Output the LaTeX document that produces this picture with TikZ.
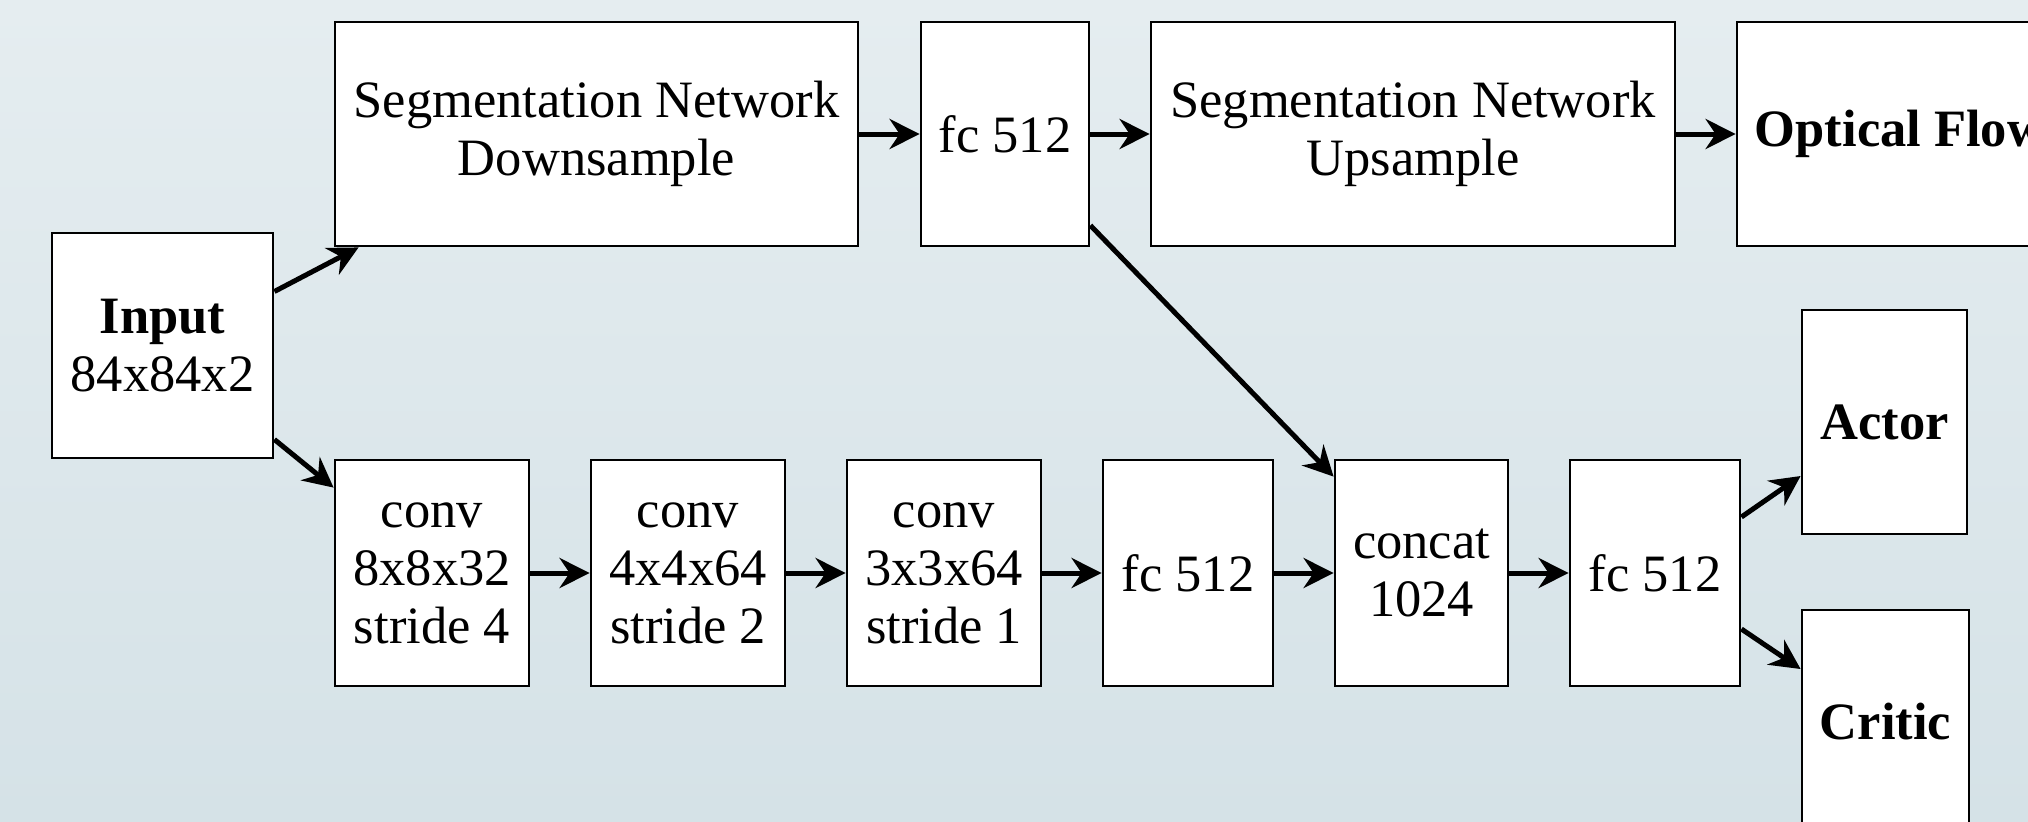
\documentclass[tikz,border=0pt]{standalone}
\usepackage{fontspec}
\setmainfont{Liberation Serif}
\usetikzlibrary{arrows.meta}
\definecolor{bgtop}{HTML}{E5EDF0}
\definecolor{bgbot}{HTML}{D5E2E7}
\begin{document}
\begin{tikzpicture}[x=0.5pt,y=-0.5pt,
  box/.style={draw=black, fill=white, line width=1.4pt, rectangle, inner sep=0pt,
    align=center, font=\fontsize{26.25pt}{29pt}\selectfont},
  sz/.style 2 args={minimum width=#1pt, minimum height=#2pt},
  flow/.style={-{Stealth[length=15pt,width=15pt,inset=5pt]}, line width=2.5pt}]
  % canvas and background
  \useasboundingbox (0,0) rectangle (2028,821);
  \clip (0,0) rectangle (2028,821);
  \shade[top color=bgtop, bottom color=bgbot] (0,0) rectangle (2028,821);

  % input
  \node[box, sz={110.5}{112.5}] (in) at (162.5,345.5) {\textbf{Input}\\84x84x2};

  % segmentation branch
  \node[box, sz={261.5}{112}] (segdown) at (596.5,134) {Segmentation Network\\Downsample};
  \node[box, sz={84}{112}] (fctop) at (1005,134) {fc 512};
  \node[box, sz={262}{112}] (segup) at (1413,134) {Segmentation Network\\Upsample};
  \node[box, sz={163}{112}] (optflow) at (1900,134) {\textbf{Optical Flow}};

  % convolutional branch
  \node[box, sz={97}{113}] (conv1) at (432,573) {conv\\8x8x32\\stride 4};
  \node[box, sz={97}{113}] (conv2) at (688,573) {conv\\4x4x64\\stride 2};
  \node[box, sz={97}{113}] (conv3) at (944,573) {conv\\3x3x64\\stride 1};
  \node[box, sz={85}{113}] (fc2) at (1188,573) {fc 512};
  \node[box, sz={86.5}{113}] (concat) at (1421.5,573) {concat\\1024};
  \node[box, sz={85}{113}] (fc3) at (1655,573) {fc 512};

  % heads
  \node[box, sz={82.5}{112}] (actor) at (1884.5,422) {\textbf{Actor}};
  \node[box, sz={83.5}{112}] (critic) at (1885.5,722) {\textbf{Critic}};

  % connectors
  \draw[flow] ([yshift=27pt]in.east) -- ([xshift=12.5pt]segdown.south west);
  \draw[flow] ([yshift=-47pt]in.east) -- ([yshift=-14.5pt]conv1.north west);
  \draw[flow] (segdown) -- (fctop);
  \draw[flow] (fctop) -- (segup);
  \draw[flow] (segup) -- (optflow);
  \draw[flow] ([yshift=11pt]fctop.south east) -- ([yshift=-9pt]concat.north west);
  \draw[flow] (conv1) -- (conv2);
  \draw[flow] (conv2) -- (conv3);
  \draw[flow] (conv3) -- (fc2);
  \draw[flow] (fc2) -- (concat);
  \draw[flow] (concat) -- (fc3);
  \draw[flow] ([yshift=28pt]fc3.east) -- ([yshift=-27pt]actor.west);
  \draw[flow] ([yshift=-28pt]fc3.east) -- ([yshift=26.5pt]critic.west);
\end{tikzpicture}
\end{document}
